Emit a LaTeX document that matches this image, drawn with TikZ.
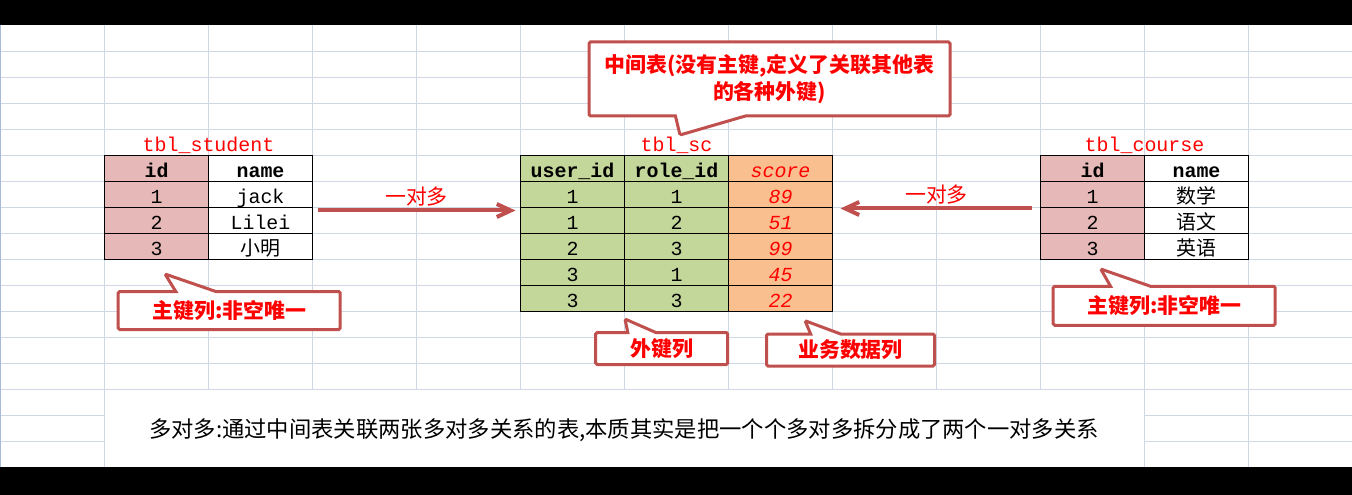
\documentclass[tikz,border=0pt]{standalone}
\usepackage{fontspec}
\usepackage{xcolor}
\usepackage{tikz}
\usetikzlibrary{shapes.callouts,arrows.meta,positioning}
\newfontfamily\tabfont{Liberation Mono}
\newfontfamily\cjk{Noto Sans CJK SC}
\definecolor{keypink}{HTML}{E6B8B7}
\definecolor{fkgreen}{HTML}{C4D79B}
\definecolor{dataorange}{HTML}{FABF8F}
\definecolor{notered}{HTML}{C0504D}
\definecolor{gridblue}{HTML}{D0D7E5}
\definecolor{frameblue}{HTML}{A9BAD8}
\tikzstyle{cell} = [rectangle, draw, line width=1bp, minimum width=104bp, minimum height=26bp, inner sep=0pt, outer sep=0pt, text height=19bp, text depth=1bp, node distance=104bp, font=\tabfont\fontsize{20}{24}\selectfont]
\tikzstyle{keycell} = [cell, fill=keypink]
\tikzstyle{fkcell} = [cell, fill=fkgreen]
\tikzstyle{datacell} = [cell, fill=dataorange, text=red, font=\tabfont\itshape\fontsize{20}{24}\selectfont]
\tikzstyle{head} = [font=\tabfont\bfseries\fontsize{20}{24}\selectfont]
\tikzstyle{tbltitle} = [text=red, inner sep=0pt, text depth=4bp, font=\tabfont\fontsize{20}{24}\selectfont]
\tikzstyle{note} = [rectangle callout, draw=notered, line width=3bp, fill=white, text=red, inner sep=0pt, align=center, rounded corners=1.5bp, font=\cjk\bfseries\fontsize{21}{27.3}\selectfont]
\tikzstyle{relation} = [draw=notered, line width=4bp, -{Straight Barb[length=14bp,width=13bp]}]
\tikzstyle{rellabel} = [above, text=red, inner sep=2bp, font=\cjk\fontsize{21}{24}\selectfont]
\tikzstyle{gridline} = [draw=gridblue, line width=1bp]

\begin{document}
\begin{tikzpicture}[x=1bp, y=-1bp]
    \useasboundingbox (0,0) rectangle (1352,495);
    \fill[white] (0,0) rectangle (1352,495);

    % sheet grid
    \foreach \gx in {104.5,208.5,...,1248.5}
        \draw[gridline] (\gx,25.5) -- (\gx,389.5);
    \foreach \gy in {51.5,77.5,...,389.5}
        \draw[gridline] (0,\gy) -- (1352,\gy);
    \foreach \gy in {415.5,441.5} {
        \draw[gridline] (0,\gy) -- (104.5,\gy);
        \draw[gridline] (1144.5,\gy) -- (1352,\gy);
    }
    \foreach \gx in {104.5,1144.5,1248.5}
        \draw[gridline] (\gx,389.5) -- (\gx,467);
    \draw[gridline, draw=frameblue] (0.5,25.5) -- (0.5,467);
    \fill[black] (0,0) rectangle (1352,25.5);
    \fill[black] (0,466.7) rectangle (1352,495);

    % tbl_student
    \node [keycell, head] (stuI0) at (156.5,168.5) {id};
    \node [cell, head, right of=stuI0] (stuN0) {name};
    \node [keycell, below of=stuI0, node distance=26bp] (stuI1) {1};
    \node [cell, right of=stuI1] (stuN1) {jack};
    \node [keycell, below of=stuI1, node distance=26bp] (stuI2) {2};
    \node [cell, right of=stuI2] (stuN2) {Lilei};
    \node [keycell, below of=stuI2, node distance=26bp] (stuI3) {3};
    \node [cell, right of=stuI3] (stuN3) {{\cjk 小明}};
    \node [tbltitle, above] (stuTitle) at (stuI0.north east) {tbl\_student};

    % tbl_sc
    \node [fkcell, head] (scU0) at (572.5,168.5) {user\_id};
    \node [fkcell, head, right of=scU0] (scR0) {role\_id};
    \node [datacell, right of=scR0] (scS0) {score};
    \node [fkcell, below of=scU0, node distance=26bp] (scU1) {1};
    \node [fkcell, right of=scU1] (scR1) {1};
    \node [datacell, right of=scR1] (scS1) {89};
    \node [fkcell, below of=scU1, node distance=26bp] (scU2) {1};
    \node [fkcell, right of=scU2] (scR2) {2};
    \node [datacell, right of=scR2] (scS2) {51};
    \node [fkcell, below of=scU2, node distance=26bp] (scU3) {2};
    \node [fkcell, right of=scU3] (scR3) {3};
    \node [datacell, right of=scR3] (scS3) {99};
    \node [fkcell, below of=scU3, node distance=26bp] (scU4) {3};
    \node [fkcell, right of=scU4] (scR4) {1};
    \node [datacell, right of=scR4] (scS4) {45};
    \node [fkcell, below of=scU4, node distance=26bp] (scU5) {3};
    \node [fkcell, right of=scU5] (scR5) {3};
    \node [datacell, right of=scR5] (scS5) {22};
    \node [tbltitle, above] (scTitle) at (scR0.north) {tbl\_sc};

    % tbl_course
    \node [keycell, head] (crsI0) at (1092.5,168.5) {id};
    \node [cell, head, right of=crsI0] (crsN0) {name};
    \node [keycell, below of=crsI0, node distance=26bp] (crsI1) {1};
    \node [cell, right of=crsI1] (crsN1) {{\cjk 数学}};
    \node [keycell, below of=crsI1, node distance=26bp] (crsI2) {2};
    \node [cell, right of=crsI2] (crsN2) {{\cjk 语文}};
    \node [keycell, below of=crsI2, node distance=26bp] (crsI3) {3};
    \node [cell, right of=crsI3] (crsN3) {{\cjk 英语}};
    \node [tbltitle, above] (crsTitle) at (crsI0.north east) {tbl\_course};

    % callouts
    \coordinate (midTip) at (680,135);
    \coordinate (stuTip) at (165,274);
    \coordinate (fkTip) at (625,319);
    \coordinate (dataTip) at (805,320.7);
    \coordinate (crsTip) at (1100.7,269);
    \node [note, callout absolute pointer={(midTip)}, callout pointer width=70bp, minimum width=361bp, minimum height=74bp] (midNote) at (769.5,79) {中间表(没有主键,定义了关联其他表\\的各种外键)};
    \node [note, callout absolute pointer={(stuTip)}, callout pointer width=40bp, minimum width=222bp, minimum height=38bp] (stuNote) at (229.2,310.5) {主键列:非空唯一};
    \node [note, callout absolute pointer={(fkTip)}, callout pointer width=28bp, minimum width=132bp, minimum height=32bp] (fkNote) at (661.7,348.5) {外键列};
    \node [note, callout absolute pointer={(dataTip)}, callout pointer width=30bp, minimum width=168bp, minimum height=32bp] (dataNote) at (850.5,350) {业务数据列};
    \node [note, callout absolute pointer={(crsTip)}, callout pointer width=40bp, minimum width=222bp, minimum height=39bp] (crsNote) at (1164.2,305.8) {主键列:非空唯一};

    % relations
    \path [relation, shorten <=5bp, shorten >=5bp] ([yshift=-3bp]stuN1.south east) -- node[rellabel] {一对多} ([yshift=-3bp]scU1.south west);
    \path [relation, shorten <=8.5bp, shorten >=8bp] ([yshift=-1bp]crsI1.south west) -- node[rellabel] {一对多} ([yshift=-1bp]scS1.south east);

    \node [font=\cjk\fontsize{22.4}{26}\selectfont] (summary) at (624,430) {多对多:通过中间表关联两张多对多关系的表,本质其实是把一个个多对多拆分成了两个一对多关系};
\end{tikzpicture}
\end{document}
